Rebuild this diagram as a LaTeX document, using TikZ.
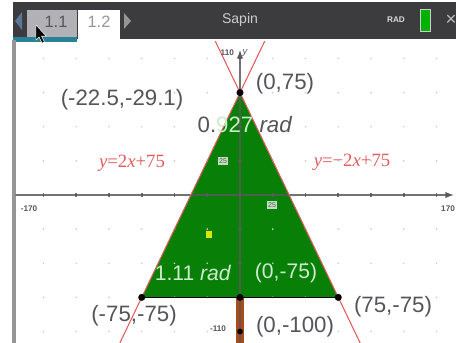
\documentclass[tikz,border=0pt]{standalone}
\usepackage{fontspec}
\setmainfont{Liberation Sans}
\newfontfamily\eqfont{Liberation Serif}
\usetikzlibrary{positioning}
\definecolor{barcol}{RGB}{60,60,62}
\definecolor{tealcol}{RGB}{40,130,150}
\definecolor{tabgrey}{RGB}{178,178,182}
\definecolor{arrowblue}{RGB}{90,120,150}
\definecolor{treegreen}{RGB}{8,128,8}
\definecolor{linered}{RGB}{226,92,92}
\definecolor{trunkbrown}{RGB}{170,75,25}
\definecolor{labelgrey}{RGB}{85,85,90}
\definecolor{dotgrey}{RGB}{205,205,205}
\definecolor{axisgrey}{RGB}{90,90,90}
\definecolor{paletext}{RGB}{205,235,205}
\definecolor{edgegrey}{RGB}{150,150,150}

\begin{document}
\begin{tikzpicture}[x=0.03cm,y=-0.03cm,>=latex]
  \tikzstyle{pt}=[circle,fill=black,inner sep=0pt,minimum size=6pt]
  \tikzstyle{coordlabel}=[text=labelgrey,inner sep=0pt,font=\fontsize{19}{19}\selectfont]
  \tikzstyle{greenlabel}=[text=paletext,inner sep=0pt,font=\fontsize{18}{18}\selectfont]
  \tikzstyle{eqlabel}=[text=linered,inner sep=0pt,font=\eqfont\fontsize{16}{16}\selectfont]
  \tikzstyle{ticklabel}=[text=labelgrey,inner sep=0pt,font=\fontsize{7}{7}\selectfont\bfseries]
  \tikzstyle{scalebox}=[fill=white,fill opacity=0.75,text opacity=1,text=labelgrey,
    inner sep=1pt,font=\fontsize{6}{6}\selectfont]
  \tikzstyle{axisline}=[draw=axisgrey,line width=1.4pt,draw opacity=0.85]
  \tikzstyle{eqline}=[draw=linered,line width=0.9pt]

  \useasboundingbox (0,0) rectangle (456,343);
  \fill[white] (0,0) rectangle (456,343);

  % title bar
  \fill[barcol] (13,2) rectangle (456,39);
  \fill[tealcol] (13,37) rectangle (77,42);
  \fill[tabgrey] (27,10) rectangle (77,37);
  \fill[white] (78,10) rectangle (120,44);
  \fill[arrowblue] (22,12) -- (15,21) -- (22,30) -- cycle;
  \fill[edgegrey] (124,13) -- (131,21) -- (124,29) -- cycle;
  \node[text=labelgrey,font=\fontsize{14}{14}\selectfont] (tab1) at (56,22) {1.1};
  \node[text=edgegrey,font=\fontsize{14}{14}\selectfont] (tab2) at (99,22) {1.2};
  \node[text=white!80!black,font=\fontsize{12}{12}\selectfont] (title) at (240,20) {Sapin};
  \node[text=white!85!black,font=\fontsize{7}{7}\selectfont\bfseries] (mode) at (396,20) {RAD};
  \draw[white!80!black,fill=green!70!black,line width=0.8pt] (420,9) rectangle (430,31);
  \node[text=white!75!black,font=\fontsize{16}{16}\selectfont] (close) at (451,20) {×};
  \fill[black,draw=white,line width=0.4pt] (36,25) -- (36,40) -- (39,37) -- (42,43)
    -- (44.5,42) -- (41.5,36) -- (46,36) -- cycle;

  % left edge of the screen
  \fill[edgegrey] (12,40) rectangle (15.5,343);

  % graph area
  \begin{scope}
    \clip (15.5,42) rectangle (456,343);
    \begin{scope}[shift={(240,195)},x=0.0393cm,y=0.04095cm]
      \coordinate (apex) at (0,75);
      \coordinate (baseL) at (-75,-75);
      \coordinate (baseR) at (75,-75);
      \coordinate (baseM) at (0,-75);
      \coordinate (root) at (0,-100);
      \coordinate (l1top) at (20,115);
      \coordinate (l1bot) at (-93.5,-112);
      \coordinate (l2top) at (-20,115);
      \coordinate (l2bot) at (93.5,-112);

      \fill[trunkbrown] (-3,-75) rectangle (3,-112);
      \fill[treegreen] (apex) -- (baseR) -- (baseL) -- cycle;
      \foreach \gx in {-150,-125,...,150}
        \foreach \gy in {-100,-75,...,100}
          \fill[dotgrey] (\gx,\gy) circle[radius=0.8pt];

      \draw[axisline,->] (-175,0) -- (163,0);
      \draw[axisline,->] (0,-112) -- (0,106);
      \foreach \t in {-150,-125,...,150}
        \draw[axisline] (\t,-1.6) -- (\t,1.6);
      \foreach \t in {-100,-75,...,100}
        \draw[axisline] (-1.6,\t) -- (1.6,\t);

      \draw[black,line width=1.2pt] (baseL) -- (baseR);
      \draw[eqline] (l1top) -- (l1bot);
      \draw[eqline] (l2top) -- (l2bot);

      \node[pt] (apexdot) at (apex) {};
      \node[pt] (baseLdot) at (baseL) {};
      \node[pt] (baseRdot) at (baseR) {};
      \node[pt] (baseMdot) at (baseM) {};
      \node[pt,minimum size=5pt] (rootdot) at (root) {};
      \coordinate (ytip) at (0,106);
    \end{scope}
  \end{scope}

  % axis ends
  \node[ticklabel,left=5pt of ytip,yshift=-2pt] (ymax) {110};
  \node[ticklabel,right=2pt of ytip,yshift=-2pt,font=\fontsize{8}{8}\selectfont\itshape] (yname) {y};
  \node[ticklabel] (ymin) at (218,329) {-110};
  \node[ticklabel] (xmin) at (29,209) {-170};
  \node[ticklabel,anchor=west] (xmax) at (441,209) {170};
  \node[scalebox] (ys) at (223,161) {25};
  \node[scalebox] (xs) at (272,205) {25};

  % labels
  \node[coordlabel] (lblC) at (122,100) {(-22.5,-29.1)};
  \node[coordlabel] (lblA) at (285,84) {(0,75)};
  \node[coordlabel,text=labelgrey] (angA) at (245,125)
    {0.\textcolor{paletext}{927} \textit{rad}};
  \node[eqlabel] (eq1) at (132,163) {\textit{y}=2\textit{x}+75};
  \node[eqlabel] (eq2) at (352,162) {\textit{y}=−2\textit{x}+75};
  \node[greenlabel] (angB) at (193,273) {1.11 \textit{rad}};
  \node[greenlabel] (lblM) at (286,273) {(0,-75)};
  \node[coordlabel] (lblL) at (134,316) {(-75,-75)};
  \node[coordlabel] (lblR) at (393,307) {(75,-75)};
  \node[coordlabel] (lblT) at (295,327) {(0,-100)};
  \fill[yellow!85!green] (206,231) rectangle (212,238);
\end{tikzpicture}
\end{document}
